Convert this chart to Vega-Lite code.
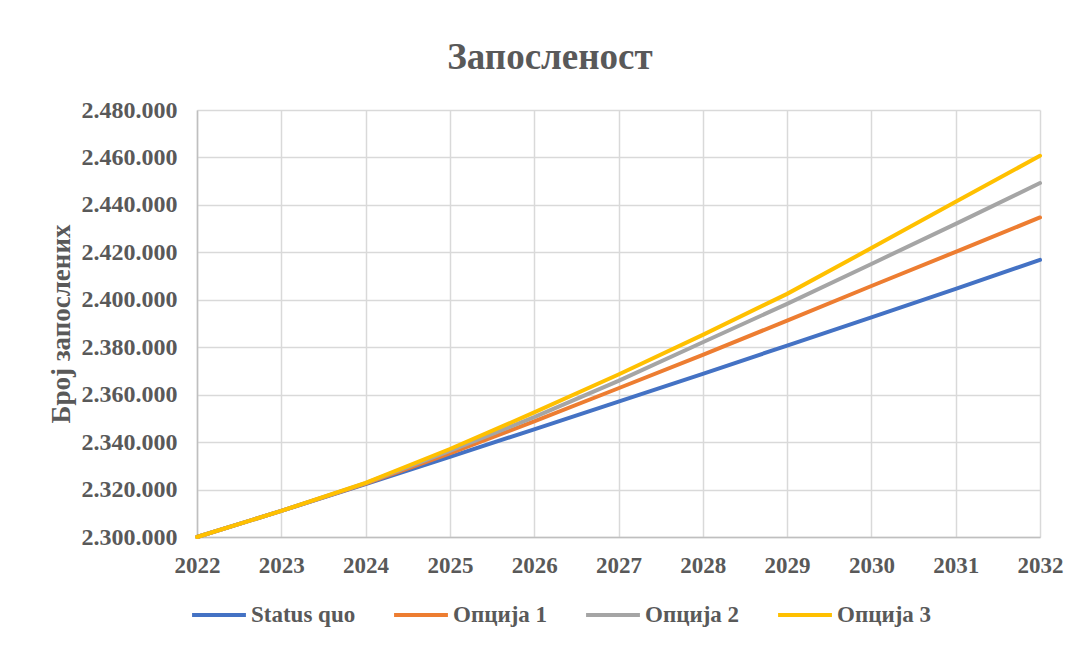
{
  "$schema": "https://vega.github.io/schema/vega-lite/v6.json",
  "width": 843,
  "height": 427,
  "autosize": {"type": "none"},
  "padding": {"left": 197, "top": 110, "right": 38, "bottom": 109},
  "background": "white",
  "config": {"view": {"stroke": null}},
  "title": {
    "text": "Запосленост",
    "font": "Liberation Serif",
    "fontSize": 37,
    "fontWeight": "bold",
    "color": "#595959",
    "anchor": "middle",
    "frame": "bounds",
    "offset": 21,
    "dx": -5
  },
  "data": {
    "values": [
      {"year": 2022, "series": "Status quo", "value": 2300000},
      {"year": 2023, "series": "Status quo", "value": 2311000},
      {"year": 2024, "series": "Status quo", "value": 2322300},
      {"year": 2025, "series": "Status quo", "value": 2333800},
      {"year": 2026, "series": "Status quo", "value": 2345400},
      {"year": 2027, "series": "Status quo", "value": 2357100},
      {"year": 2028, "series": "Status quo", "value": 2368800},
      {"year": 2029, "series": "Status quo", "value": 2380700},
      {"year": 2030, "series": "Status quo", "value": 2392600},
      {"year": 2031, "series": "Status quo", "value": 2404600},
      {"year": 2032, "series": "Status quo", "value": 2416800},
      {"year": 2022, "series": "Опција 1", "value": 2300000},
      {"year": 2023, "series": "Опција 1", "value": 2311000},
      {"year": 2024, "series": "Опција 1", "value": 2322500},
      {"year": 2025, "series": "Опција 1", "value": 2335300},
      {"year": 2026, "series": "Опција 1", "value": 2348700},
      {"year": 2027, "series": "Опција 1", "value": 2362700},
      {"year": 2028, "series": "Опција 1", "value": 2376800},
      {"year": 2029, "series": "Опција 1", "value": 2391200},
      {"year": 2030, "series": "Опција 1", "value": 2405800},
      {"year": 2031, "series": "Опција 1", "value": 2420200},
      {"year": 2032, "series": "Опција 1", "value": 2434700},
      {"year": 2022, "series": "Опција 2", "value": 2300000},
      {"year": 2023, "series": "Опција 2", "value": 2311000},
      {"year": 2024, "series": "Опција 2", "value": 2322700},
      {"year": 2025, "series": "Опција 2", "value": 2336300},
      {"year": 2026, "series": "Опција 2", "value": 2350500},
      {"year": 2027, "series": "Опција 2", "value": 2365800},
      {"year": 2028, "series": "Опција 2", "value": 2382100},
      {"year": 2029, "series": "Опција 2", "value": 2398300},
      {"year": 2030, "series": "Опција 2", "value": 2415100},
      {"year": 2031, "series": "Опција 2", "value": 2432000},
      {"year": 2032, "series": "Опција 2", "value": 2449200},
      {"year": 2022, "series": "Опција 3", "value": 2300000},
      {"year": 2023, "series": "Опција 3", "value": 2311000},
      {"year": 2024, "series": "Опција 3", "value": 2322800},
      {"year": 2025, "series": "Опција 3", "value": 2337100},
      {"year": 2026, "series": "Опција 3", "value": 2352500},
      {"year": 2027, "series": "Опција 3", "value": 2368500},
      {"year": 2028, "series": "Опција 3", "value": 2385200},
      {"year": 2029, "series": "Опција 3", "value": 2402500},
      {"year": 2030, "series": "Опција 3", "value": 2421800},
      {"year": 2031, "series": "Опција 3", "value": 2441300},
      {"year": 2032, "series": "Опција 3", "value": 2460700}
    ]
  },
  "mark": {"type": "line", "strokeWidth": 4, "strokeCap": "round"},
  "encoding": {
    "x": {
      "field": "year",
      "type": "quantitative",
      "scale": {"domain": [2022, 2032], "nice": false, "zero": false},
      "axis": {
        "title": null,
        "values": [2022, 2023, 2024, 2025, 2026, 2027, 2028, 2029, 2030, 2031, 2032],
        "format": "d",
        "grid": true,
        "gridColor": "#d9d9d9",
        "gridWidth": 1.5,
        "domainColor": "#bfbfbf",
        "domainWidth": 1.5,
        "ticks": false,
        "labelPadding": 17,
        "labelFont": "Liberation Serif",
        "labelFontSize": 23,
        "labelFontWeight": "bold",
        "labelColor": "#595959",
        "labelFlush": false,
        "labelOverlap": false
      }
    },
    "y": {
      "field": "value",
      "type": "quantitative",
      "scale": {"domain": [2300000, 2480000], "nice": false, "zero": false},
      "axis": {
        "title": "Број запослених",
        "titleFont": "Liberation Serif",
        "titleFontSize": 27,
        "titleFontWeight": "bold",
        "titleColor": "#595959",
        "titlePadding": 6,
        "values": [2300000, 2320000, 2340000, 2360000, 2380000, 2400000, 2420000, 2440000, 2460000, 2480000],
        "labelExpr": "replace(format(datum.value, ',d'), /,/g, '.')",
        "grid": true,
        "gridColor": "#d9d9d9",
        "gridWidth": 1.5,
        "domainColor": "#bfbfbf",
        "domainWidth": 1.5,
        "ticks": false,
        "labelPadding": 20,
        "labelFont": "Liberation Serif",
        "labelFontSize": 24,
        "labelFontWeight": "bold",
        "labelColor": "#595959",
        "labelFlush": false,
        "labelOverlap": false
      }
    },
    "color": {
      "field": "series",
      "type": "nominal",
      "scale": {
        "domain": ["Status quo", "Опција 1", "Опција 2", "Опција 3"],
        "range": ["#4472C4", "#ED7D31", "#A5A5A5", "#FFC000"]
      },
      "legend": {
        "title": null,
        "orient": "none",
        "direction": "horizontal",
        "legendX": -7,
        "legendY": 476,
        "symbolType": "stroke",
        "symbolSize": 2900,
        "symbolStrokeWidth": 4,
        "labelFont": "Liberation Serif",
        "labelFontSize": 23,
        "labelFontWeight": "bold",
        "labelColor": "#595959",
        "labelOffset": 3,
        "columnPadding": 30,
        "labelLimit": 300
      }
    }
  }
}
